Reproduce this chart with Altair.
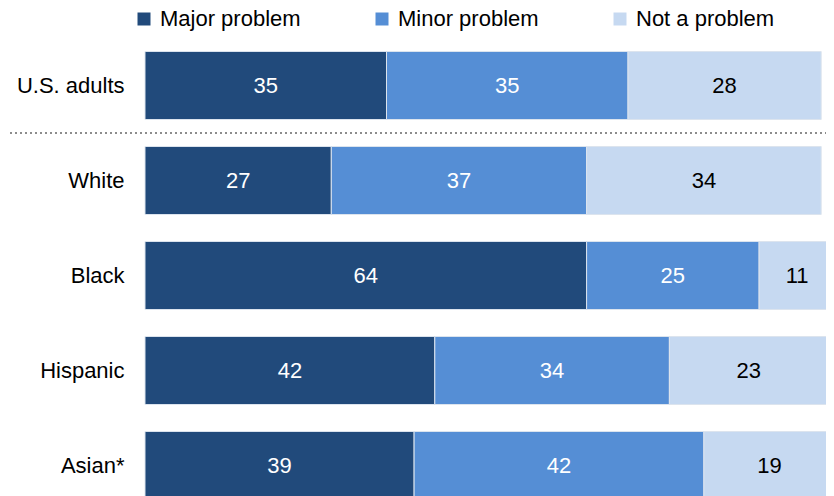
import altair as alt
import pandas as pd

categories = ["U.S. adults", "White", "Black", "Hispanic", "Asian*"]
major = [35, 27, 64, 42, 39]
minor = [35, 37, 25, 34, 42]
not_problem = [28, 34, 11, 23, 19]
series = ["Major problem", "Minor problem", "Not a problem"]
colors = ["#214a7b", "#558ed5", "#c6d9f1"]

rows = []
for i, c in enumerate(categories):
    for j, (s, vals) in enumerate(zip(series, [major, minor, not_problem])):
        rows.append({"category": c, "series": s, "value": vals[i], "order": j})
df = pd.DataFrame(rows)

FONT = "Liberation Sans"

base = alt.Chart(df).transform_stack(
    stack="value", as_=["x0", "x1"], groupby=["category"],
    sort=[alt.SortField("order", order="ascending")]
).transform_calculate(mid="(datum.x0 + datum.x1) / 2")

yenc = alt.Y(
    "category:N", sort=categories,
    scale=alt.Scale(paddingInner=0.284, paddingOuter=0.142),
    axis=alt.Axis(title=None, domain=False, ticks=False, labelFontSize=22,
                  labelPadding=21, labelColor="#000000", labelFont=FONT),
)
xscale = alt.Scale(domain=[0, 100], nice=False, zero=True, range=[0, 690])

bars = base.mark_bar(stroke="#dce4ee", strokeWidth=1).encode(
    x=alt.X("x0:Q", scale=xscale, axis=None),
    x2="x1:Q",
    y=yenc,
    color=alt.Color(
        "series:N", scale=alt.Scale(domain=series, range=colors),
        legend=alt.Legend(
            title=None, orient="none", legendX=-12, legendY=-30,
            direction="horizontal", columns=3, gridAlign="all",
            columnPadding=70, symbolType="square", symbolSize=169,
            symbolStrokeWidth=0, labelFont=FONT, labelFontSize=22,
            labelColor="#000000", labelOffset=5, labelLimit=300,
        ),
    ),
    order=alt.Order("order:Q"),
)

texts = base.mark_text(fontSize=22, font=FONT).encode(
    x=alt.X("mid:Q", scale=xscale, axis=None),
    y=alt.Y("category:N", sort=categories),
    text=alt.Text("value:Q"),
    color=alt.condition(alt.datum.series == "Not a problem",
                        alt.value("#000000"), alt.value("#ffffff")),
)

sep = alt.Chart(pd.DataFrame({"a": [0]})).mark_rule(
    color="#8c8c8c", strokeWidth=2, strokeDash=[2, 3]
).encode(x=alt.value(-135), x2=alt.value(690), y=alt.value(95))

chart = alt.layer(bars, texts, sep).properties(
    width=681, height=475,
    autosize=alt.AutoSizeParams(type="none"),
    padding={"left": 137, "top": 30, "right": 0, "bottom": 0},
).configure_view(stroke=None)

chart.save("out.html", embed_options={"renderer": "svg", "actions": False})
